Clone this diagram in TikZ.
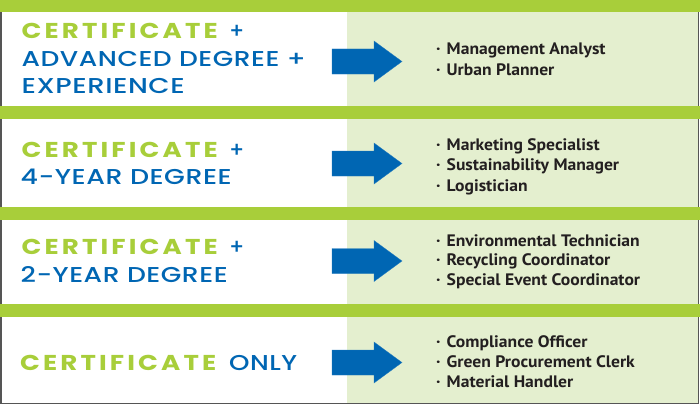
\documentclass[tikz,border=0pt]{standalone}
\usepackage{fontspec}
\setmainfont{PT Sans}
\newfontfamily\popreg{Poppins}[UprightFont=*-Medium,LetterSpace=2]
\newfontfamily\popbold{Poppins}[UprightFont=*-Bold,LetterSpace=12]
\newfontfamily\listfont{PT Sans}[UprightFont=* Bold,FakeStretch=1.06]
\definecolor{bandgreen}{HTML}{A8CE3A}
\definecolor{lightgreen}{HTML}{E4EFCF}
\definecolor{arrowblue}{HTML}{0066B3}
\definecolor{textdark}{HTML}{231F20}
\definecolor{bordergray}{HTML}{555555}
\newsavebox{\fitbox}
\newcommand{\fitw}[2]{\sbox{\fitbox}{#2}\pgfmathsetmacro{\fwr}{#1/\the\wd\fitbox}\scalebox{\fwr}[1]{\usebox{\fitbox}}}
\tikzset{
  band/.style={fill=bandgreen},
  bigarrow/.style={fill=arrowblue, draw=arrowblue!85!white, line width=0.3pt},
  cert/.style={anchor=base west, inner sep=0pt, text=bandgreen, font=\fontsize{21.5}{24}\popbold},
  deg/.style={anchor=base west, inner sep=0pt, text=arrowblue, font=\fontsize{21.5}{24}\popreg},
  job/.style={anchor=base west, inner sep=0pt, text=textdark, font=\fontsize{16.6}{18}\listfont},
}
\newcommand{\jb}[1]{\makebox[10.5pt][l]{\textperiodcentered}#1}
\begin{document}
\begin{tikzpicture}[x=1pt,y=-1pt]
\useasboundingbox (0,0) rectangle (700,404);
\fill[white] (0,0) rectangle (700,404);
\fill[lightgreen] (347,0) rectangle (698,404);
\draw[bordergray, line width=1.5pt] (0.75,0) -- (0.75,403.25) -- (698.5,403.25) -- (698.5,0);
% bands
\fill[band] (0,0) rectangle (700,12);
\fill[band] (0,106) rectangle (700,119);
\fill[band] (0,207) rectangle (700,220);
\fill[band] (0,304) rectangle (700,317);
% arrows
\foreach \cy/\nm in {61.5/a1,163.5/a2,261/a3,362.5/a4}{
  \draw[bigarrow] (332,\cy-12.5) -- (374,\cy-12.5) -- (374,\cy-20.5) -- (402,\cy)
     -- (374,\cy+20.5) -- (374,\cy+12.5) -- (332,\cy+12.5) -- cycle;
  \coordinate (\nm) at (367,\cy);
}
% left texts
\node[cert] (c1) at (21.5,39) {\fitw{196}{CERTIFICATE}};
\node[deg] (p1) at (229,39) {+};
\node[deg] (d1a) at (21.5,66.5) {\fitw{284}{ADVANCED DEGREE +}};
\node[deg] (d1b) at (21.5,93) {\fitw{163}{EXPERIENCE}};
\node[cert] (c2) at (21.5,157) {\fitw{196}{CERTIFICATE}};
\node[deg] (p2) at (229,157) {+};
\node[deg] (d2) at (20.5,184) {\fitw{211}{4-YEAR DEGREE}};
\node[cert] (c3) at (21.5,254) {\fitw{196}{CERTIFICATE}};
\node[deg] (p3) at (229,254) {+};
\node[deg] (d3) at (20.5,282) {\fitw{207}{2-YEAR DEGREE}};
\node[cert] (c4) at (20,370) {\fitw{196}{CERTIFICATE}};
\node[deg] (o4) at (229,370) {\fitw{68}{ONLY}};
% right texts
\node[job] (j11) at (436,54) {\jb{Management Analyst}};
\node[job] (j12) at (436,75) {\jb{Urban Planner}};
\node[job] (j21) at (436,150) {\jb{Marketing Specialist}};
\node[job] (j22) at (436,170) {\jb{Sustainability Manager}};
\node[job] (j23) at (436,191) {\jb{Logistician}};
\node[job] (j31) at (436,246) {\jb{Environmental Technician}};
\node[job] (j32) at (436,265) {\jb{Recycling Coordinator}};
\node[job] (j33) at (436,285) {\jb{Special Event Coordinator}};
\node[job] (j41) at (436,347) {\jb{Compliance Officer}};
\node[job] (j42) at (436,367) {\jb{Green Procurement Clerk}};
\node[job] (j43) at (436,387) {\jb{Material Handler}};
\end{tikzpicture}
\end{document}
